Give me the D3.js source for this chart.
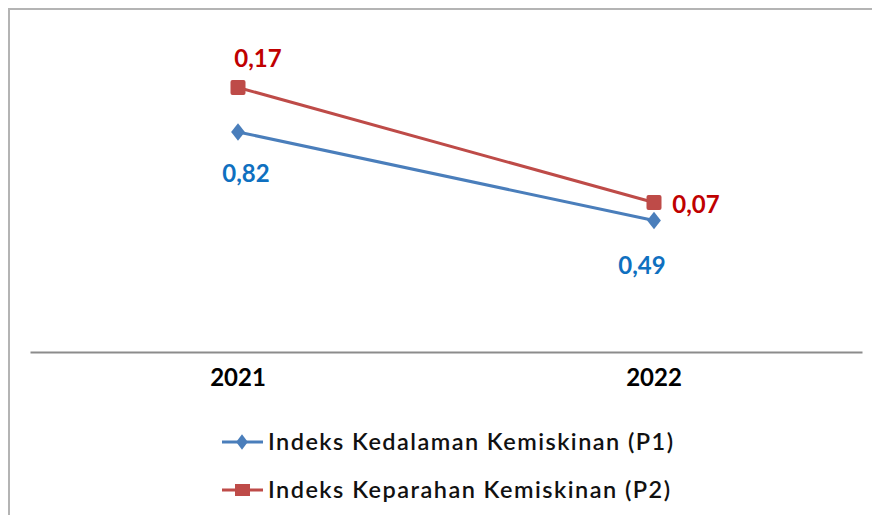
<!DOCTYPE html>
<html><head><meta charset="utf-8">
<script src="https://cdn.jsdelivr.net/npm/d3@7"></script>
<style>body{margin:0;background:#fff}svg{display:block}</style>
</head><body>
<script>
const categories = ["2021", "2022"];
const p1Values = [0.82, 0.49];
const p2Values = [0.17, 0.07];
const p1Labels = ["0,82", "0,49"];
const p2Labels = ["0,17", "0,07"];
const seriesNames = ["Indeks Kedalaman Kemiskinan (P1)", "Indeks Keparahan Kemiskinan (P2)"];

const W = 872, H = 515;
const svg = d3.select("body").append("svg").attr("width", W).attr("height", H);
const font = "Lato, 'Open Sans', sans-serif";

// chart frame
svg.append("path").attr("d", `M9,${H+5} L9,9 L${W+5},9`).attr("fill","none")
  .attr("stroke","#b4b4b4").attr("stroke-width",2);

const x = d3.scaleBand().domain(categories).range([30, 862]);
const y1 = d3.scaleLinear().domain([0, 1.2]).range([352, 30]);
const y2 = d3.scaleLinear().domain([-0.06, 0.22]).range([352, 30]);
const cx = c => x(c) + x.bandwidth()/2;

// category axis
const ax = svg.append("g").attr("transform","translate(0,352)")
  .call(d3.axisBottom(x).tickSize(0).tickPadding(30));
ax.select(".domain").attr("stroke","#8c8c8c").attr("stroke-width",2);
ax.selectAll("text").attr("font-family",font).attr("font-size",24).attr("font-weight","bold")
  .attr("fill","#000").attr("dy","0.18em");

const blue = "#4a7ebb", red = "#be4b48";
const line1 = d3.line().x((d,i)=>cx(categories[i])).y(d=>y1(d));
const line2 = d3.line().x((d,i)=>cx(categories[i])).y(d=>y2(d));

svg.append("path").attr("d", line2(p2Values)).attr("fill","none").attr("stroke",red).attr("stroke-width",3);
svg.append("path").attr("d", line1(p1Values)).attr("fill","none").attr("stroke",blue).attr("stroke-width",3);

const diamond = d3.symbol().type(d3.symbolDiamond).size(90);
svg.selectAll(".m1").data(p1Values).join("path")
  .attr("d", diamond).attr("fill",blue)
  .attr("transform",(d,i)=>`translate(${cx(categories[i])},${y1(d)}) scale(1.35,1)`);
svg.selectAll(".m2").data(p2Values).join("rect")
  .attr("x",(d,i)=>cx(categories[i])-7.5).attr("y",d=>y2(d)-7.5)
  .attr("width",15).attr("height",15).attr("rx",2).attr("fill",red);

// data labels
const lab1Off = [[8, 50], [-12, 53]];
const lab2Off = [[20, -21], [42, 10]];
svg.selectAll(".l1").data(p1Values).join("text")
  .attr("x",(d,i)=>cx(categories[i])+lab1Off[i][0]).attr("y",(d,i)=>y1(d)+lab1Off[i][1])
  .attr("text-anchor","middle").attr("font-family",font).attr("font-size",24)
  .attr("font-weight","bold").attr("fill","#0f70c0").text((d,i)=>p1Labels[i]);
svg.selectAll(".l2").data(p2Values).join("text")
  .attr("x",(d,i)=>cx(categories[i])+lab2Off[i][0]).attr("y",(d,i)=>y2(d)+lab2Off[i][1])
  .attr("text-anchor","middle").attr("font-family",font).attr("font-size",24)
  .attr("font-weight","bold").attr("fill","#c00000").text((d,i)=>p2Labels[i]);

// legend
const lg = svg.append("g");
const legY = [442, 490];
seriesNames.forEach((name, i) => {
  const g = lg.append("g").attr("transform",`translate(0,${legY[i]})`);
  g.append("line").attr("x1",222).attr("x2",263).attr("stroke",i?red:blue).attr("stroke-width",3);
  if (i === 0) {
    g.append("path").attr("d", d3.symbol().type(d3.symbolDiamond).size(70)())
      .attr("transform","translate(242,0) scale(1.3,1)").attr("fill",blue);
  } else {
    g.append("rect").attr("x",235).attr("y",-6).attr("width",15).attr("height",12).attr("fill",red);
  }
  g.append("text").attr("x",268).attr("y",8).attr("font-family",font).attr("font-size",23.5)
    .attr("font-weight",600)
    .attr("fill","#111").attr("textLength", i ? 402 : 405).attr("lengthAdjust","spacing").text(name);
});
</script>
</body></html>
